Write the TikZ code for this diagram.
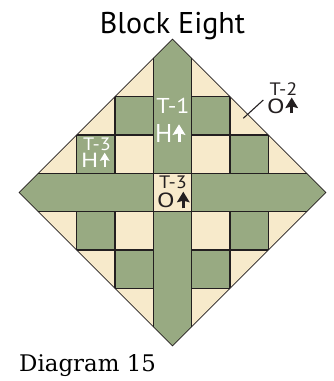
\documentclass[tikz,border=0pt]{standalone}
\usepackage{fontspec}
\newfontfamily\blocksans{PT Sans}
\newfontfamily\codesans[FakeStretch=1.12]{PT Sans}
\newfontfamily\fabsans[FakeStretch=1.25]{PT Sans}
\newfontfamily\captionserif{DejaVu Serif}
\usepackage{tikz}
\usetikzlibrary{arrows.meta}

\definecolor{sage}{RGB}{152,170,130}
\definecolor{cream}{RGB}{247,234,203}
\definecolor{ink}{RGB}{35,31,32}

\begin{document}
\begin{tikzpicture}[
  x=1pt, y=-1pt,
  seam/.style={draw=ink, line width=1.3pt},
  edge/.style={draw=ink, line width=.8pt},
  lbl/.style={inner sep=0pt, anchor=base west},
  bigcode/.style={lbl, font=\codesans\fontsize{21.5}{24}\selectfont},
  bigfab/.style={lbl, font=\blocksans\fontsize{25.7}{28}\selectfont},
  smallcode/.style={lbl, font=\codesans\fontsize{18}{20}\selectfont},
  smallfab/.style={lbl, font=\fabsans\fontsize{20.5}{22}\selectfont},
  grainbig/.style={line width=3pt, -{Stealth[length=10.5pt, width=12.5pt, inset=1.5pt]}},
  grainsmall/.style={line width=2.4pt, -{Stealth[length=8pt, width=9.5pt, inset=1.2pt]}}
]
\useasboundingbox (0,0) rectangle (333,381);

\node[inner sep=0pt, anchor=base, font=\blocksans\fontsize{30}{36}\selectfont]
  (title) at (172.5,33.3) {Block Eight};

\begin{scope}[shift={(172.5,192.5)}, x=38.33pt, y=38.33pt]
  \begin{scope}
    \clip (0,4) -- (4,0) -- (0,-4) -- (-4,0) -- cycle;
    \fill[cream] (-4,-4) rectangle (4,4);
    \foreach \i/\j in {1/2,2/1,-1/2,-2/1,1/-2,2/-1,-1/-2,-2/-1}
      \fill[sage] (\i-.5,\j-.5) rectangle ++(1,1);
    \fill[sage] (-.5,-4) rectangle (.5,4);
    \fill[sage] (-4,-.5) rectangle (4,.5);
    \fill[cream] (-.5,-.5) rectangle (.5,.5);
    \draw[seam] (-.5,-4) -- (-.5,4) (.5,-4) -- (.5,4)
                (-4,-.5) -- (4,-.5) (-4,.5) -- (4,.5);
    \foreach \k in {1.5,2.5} {
      \draw[seam] (\k,.5) -- (\k,4) (\k,-.5) -- (\k,-4)
                  (-\k,.5) -- (-\k,4) (-\k,-.5) -- (-\k,-4)
                  (.5,\k) -- (4,\k) (-.5,\k) -- (-4,\k)
                  (.5,-\k) -- (4,-\k) (-.5,-\k) -- (-4,-\k);
    }
  \end{scope}
  \draw[edge] (0,4) -- (4,0) -- (0,-4) -- (-4,0) -- cycle;
\end{scope}

% cutting labels
\node[bigcode, text=white] (t1code) at (156.2,113.3) {T-1};
\node[bigfab, text=white] (t1fab) at (155,142.3) {H};
\node[smallcode, text=white] (t3hcode) at (82.8,150) {T-3};
\node[smallfab, text=white] (t3hfab) at (81,167.3) {H};
\node[smallcode, text=ink] (t3ocode) at (158.8,188.3) {T-3};
\node[smallfab, text=ink] (t3ofab) at (157,207.5) {O};
\node[smallcode, text=ink] (t2code) at (269.5,95.7) {T-2};
\node[smallfab, text=ink] (t2fab) at (267,113) {O};

% grain arrows
\coordinate (t1grain) at (179,142.3);
\coordinate (t3hgrain) at (104.7,167.3);
\coordinate (t3ograin) at (183.3,208.3);
\coordinate (t2grain) at (291.7,113.3);
\draw[grainbig, white] (t1grain) -- ++(0,-18);
\draw[grainsmall, white] (t3hgrain) -- ++(0,-14.6);
\draw[grainbig, ink] (t3ograin) -- ++(0,-16.6);
\draw[grainbig, ink] (t2grain) -- ++(0,-15.8);

\coordinate (t2pt) at (243.3,118.3);
\coordinate (t2end) at (263.3,100);
\draw[ink, line width=1.1pt] (t2pt) -- (t2end);

\node[inner sep=0pt, anchor=base west, font=\captionserif\fontsize{22.9}{26}\selectfont]
  (caption) at (19,371.7) {Diagram 15};
\end{tikzpicture}
\end{document}
